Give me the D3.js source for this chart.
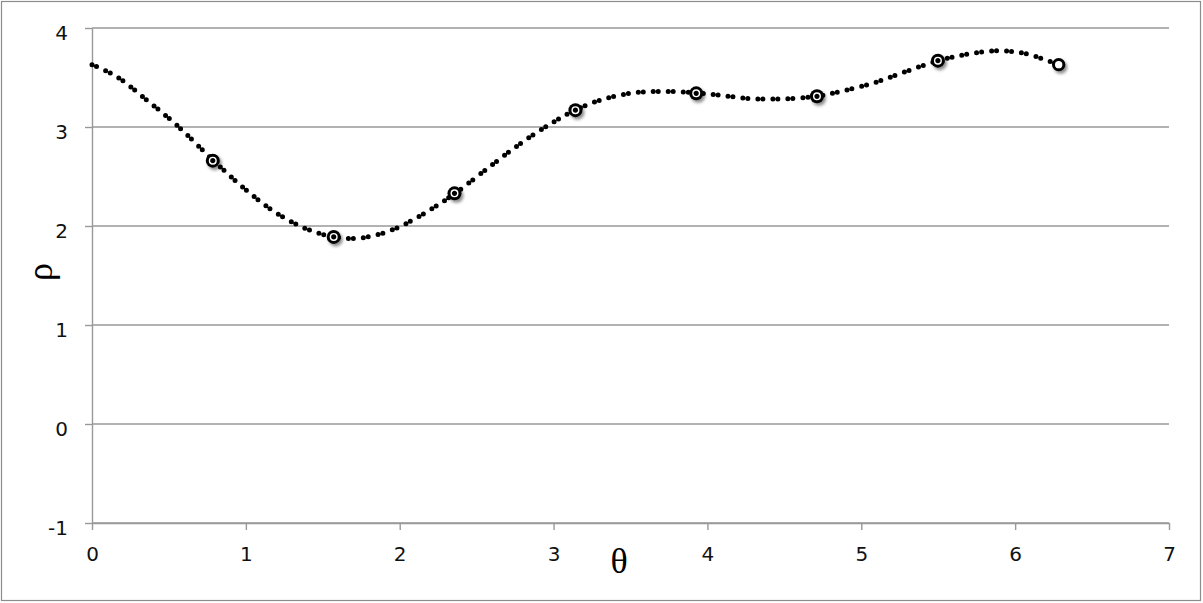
<!DOCTYPE html>
<html>
<head>
<meta charset="utf-8">
<script src="https://cdn.jsdelivr.net/npm/d3@7"></script>
<style>
  body { margin: 0; background: #fff; }
  svg { display: block; }
</style>
</head>
<body>
<div id="viz"></div>
<script>
// dense curve (theta, rho)
var curveTheta = [0, 0.16, 0.35, 0.55, 0.79, 0.99, 1.18, 1.38, 1.57, 1.75, 1.95, 2.14, 2.36, 2.61, 2.81, 3.00, 3.14,
    3.32, 3.52, 3.72, 3.93, 4.11, 4.30, 4.50, 4.71, 4.88, 5.09, 5.29, 5.50, 5.67, 5.88, 6.07, 6.28];
var curveRho = [3.63, 3.51, 3.28, 3.02, 2.66, 2.38, 2.15, 1.98, 1.89, 1.88, 1.96, 2.11, 2.33, 2.63, 2.86, 3.05, 3.17,
    3.28, 3.345, 3.36, 3.345, 3.315, 3.285, 3.285, 3.31, 3.365, 3.45, 3.56, 3.67, 3.73, 3.77, 3.74, 3.63];

// sample points
var pointTheta = [0.785, 1.571, 2.356, 3.142, 3.927, 4.712, 5.498, 6.283];
var pointRho = [2.66, 1.89, 2.33, 3.17, 3.34, 3.31, 3.67, 3.63];

var xTicks = [0, 1, 2, 3, 4, 5, 6, 7];
var yTicks = [-1, 0, 1, 2, 3, 4];

var W = 1203, H = 603;
var margin = { top: 28, right: 34, bottom: 80, left: 92 };

var x = d3.scaleLinear().domain([0, 7]).range([margin.left, W - margin.right]);
var y = d3.scaleLinear().domain([-1, 4]).range([H - margin.bottom, margin.top]);

var svg = d3.select('#viz').append('svg')
    .attr('width', W)
    .attr('height', H);

var defs = svg.append('defs');
var shadow = defs.append('filter')
    .attr('id', 'shadow')
    .attr('x', '-50%').attr('y', '-50%')
    .attr('width', '200%').attr('height', '200%');
shadow.append('feDropShadow')
    .attr('dx', 2).attr('dy', 2.5)
    .attr('stdDeviation', 1.6)
    .attr('flood-color', '#000')
    .attr('flood-opacity', 0.45);

// outer frame
svg.append('rect')
    .attr('x', 1.5).attr('y', 1.5)
    .attr('width', W - 4).attr('height', H - 4)
    .attr('fill', 'none')
    .attr('stroke', '#8c8c8c')
    .attr('stroke-width', 1.2);

// gridlines
svg.append('g').selectAll('line').data(yTicks)
    .enter().append('line')
    .attr('x1', x(0)).attr('x2', x(7))
    .attr('y1', function (d) { return y(d); })
    .attr('y2', function (d) { return y(d); })
    .attr('stroke', '#999')
    .attr('stroke-width', 1.4);

var fmt = function (d) { return String(d); };

var yAxis = svg.append('g')
    .attr('transform', 'translate(' + x(0) + ',0)')
    .call(d3.axisLeft(y).tickValues(yTicks).tickFormat(fmt).tickSize(7).tickSizeOuter(0).tickPadding(17));

var xAxis = svg.append('g')
    .attr('transform', 'translate(0,' + y(-1) + ')')
    .call(d3.axisBottom(x).tickValues(xTicks).tickFormat(fmt).tickSize(7).tickSizeOuter(0).tickPadding(17));

[yAxis, xAxis].forEach(function (g) {
    g.selectAll('path, line').attr('stroke', '#999').attr('stroke-width', 1.4);
    g.selectAll('text')
        .attr('fill', '#111')
        .style('font-family', '"DejaVu Sans", sans-serif')
        .style('font-size', '20px');
});
yAxis.selectAll('text').attr('dy', '0.55em');

// axis titles
svg.append('text')
    .attr('x', 619).attr('y', 573)
    .attr('text-anchor', 'middle')
    .style('font-family', '"Liberation Serif", serif')
    .style('font-size', '36px')
    .text('θ');

svg.append('text')
    .attr('transform', 'translate(52,272) rotate(-90)')
    .attr('text-anchor', 'middle')
    .style('font-family', '"Liberation Serif", serif')
    .style('font-size', '36px')
    .text('ρ');

// dotted curve
var line = d3.line()
    .x(function (d, i) { return x(curveTheta[i]); })
    .y(function (d) { return y(d); })
    .curve(d3.curveCatmullRom.alpha(0.5));

svg.append('path')
    .datum(curveRho)
    .attr('d', line)
    .attr('fill', 'none')
    .attr('stroke', '#000')
    .attr('stroke-width', 5)
    .attr('stroke-linecap', 'round')
    .attr('stroke-dasharray', '0 5 0 10');

// markers
var last = pointRho.length - 1;
var marks = svg.append('g').selectAll('g').data(pointRho)
    .enter().append('g')
    .attr('transform', function (d, i) {
        return 'translate(' + x(pointTheta[i]) + ',' + y(d) + ')';
    })
    .attr('filter', 'url(#shadow)');

marks.append('circle')
    .attr('r', function (d, i) { return i === last ? 5.2 : 7; })
    .attr('fill', function (d, i) { return i === last ? '#fff' : '#000'; })
    .attr('stroke', '#000')
    .attr('stroke-width', function (d, i) { return i === last ? 3 : 0; });

marks.filter(function (d, i) { return i !== last; })
    .append('circle')
    .attr('r', 3.3)
    .attr('fill', 'none')
    .attr('stroke', '#fff')
    .attr('stroke-width', 1.4);
</script>
</body>
</html>
